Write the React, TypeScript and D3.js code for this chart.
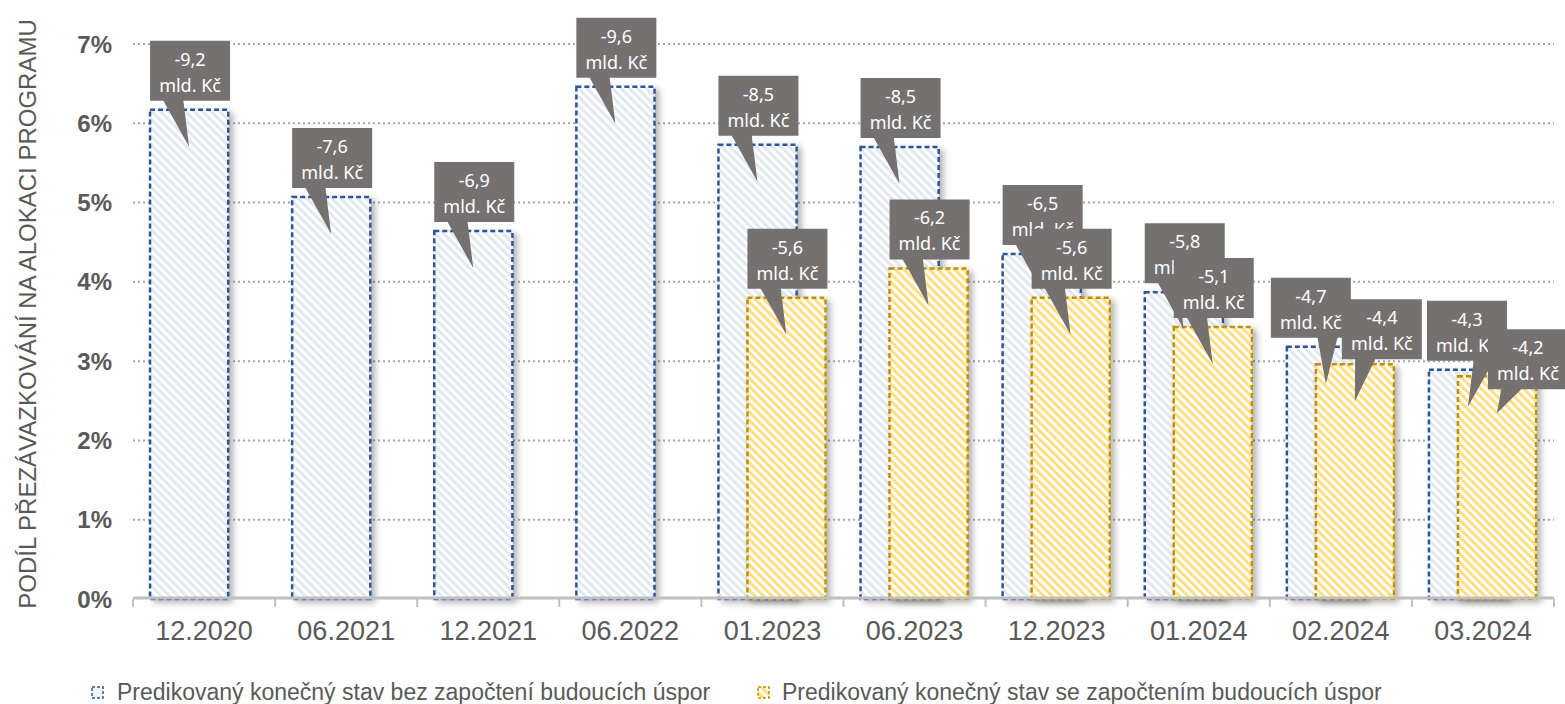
import React from "react";
import * as d3 from "d3";

const categories = [
  "12.2020", "06.2021", "12.2021", "06.2022", "01.2023",
  "06.2023", "12.2023", "01.2024", "02.2024", "03.2024",
];
// podíl přezávazkování (%)
const bezUspor = [6.17, 5.07, 4.64, 6.46, 5.73, 5.7, 4.35, 3.87, 3.18, 2.89];
const seUsporami: (number | null)[] = [null, null, null, null, 3.8, 4.17, 3.8, 3.43, 2.96, 2.81];
// objem v mld. Kč
const bezUsporLabels = ["-9,2", "-7,6", "-6,9", "-9,6", "-8,5", "-8,5", "-6,5", "-5,8", "-4,7", "-4,3"];
const seUsporamiLabels = [null, null, null, null, "-5,6", "-6,2", "-5,6", "-5,1", "-4,4", "-4,2"];
const yTicks = [0, 1, 2, 3, 4, 5, 6, 7];
const seriesNames = [
  "Predikovaný konečný stav bez započtení budoucích úspor",
  "Predikovaný konečný stav se započtením budoucích úspor",
];

// ruční posuny popisků (px), jako v Excelu
const blueLabelDx = [0, 0, 0, 0, 0, 0, 0, 0, -16, -2];
const yellowLabelDx = [0, 0, 0, 0, 0, 0, 0, 0, 26, 30];
const yellowLabelDy = [0, 0, 0, 0, 0, 0, 0, 0, 4, 22];

const W = 1565;
const H = 704;
const GREY = "#595959";

const x = d3.scaleBand().domain(categories).range([133, 1554]).padding(0);
const y = d3.scaleLinear().domain([0, 7]).range([599, 44]);

const bw = x.bandwidth();
const barW = bw * 0.55;
const blueOff = -bw * 0.38;
const yellowOff = -bw * 0.176;

const Callout: React.FC<{ barLeft: number; barTop: number; dx: number; dy: number; label: string }> = ({
  barLeft,
  barTop,
  dx,
  dy,
  label,
}) => {
  const boxW = 80;
  const boxH = 60;
  const bx = barLeft + dx;
  const by = barTop - 9 - boxH + dy;
  const tipX = barLeft + 39;
  const tipY = barTop + 37;
  const bottom = by + boxH;
  const left = tipX < bx + boxW / 2;
  const b1 = left ? bx + boxW / 6 : bx + (boxW * 7) / 12;
  const b2 = left ? bx + (boxW * 5) / 12 : bx + (boxW * 5) / 6;
  const path = `M${bx},${by} H${bx + boxW} V${bottom} H${b2} L${tipX},${tipY} L${b1},${bottom} H${bx} Z`;
  return (
    <g>
      <path d={path} fill="#767171" />
      <text
        x={bx + boxW / 2}
        y={by + 25}
        textAnchor="middle"
        fill="#fff"
        fontFamily="'Noto Sans', sans-serif"
        fontSize={18}
      >
        {label}
      </text>
      <text
        x={bx + boxW / 2}
        y={by + 51}
        textAnchor="middle"
        fill="#fff"
        fontFamily="'Noto Sans', sans-serif"
        fontSize={18}
      >
        mld. Kč
      </text>
    </g>
  );
};

const App: React.FC = () => {
  return (
    <svg
      width={W}
      height={H}
      style={{ position: "absolute", left: 0, top: 0, background: "#fff" }}
      fontFamily="'Liberation Sans', Arial, sans-serif"
    >
      <defs>
        <pattern id="pBlue" width="6" height="6" patternUnits="userSpaceOnUse" patternTransform="rotate(45)">
          <rect width="6" height="6" fill="#fff" />
          <rect width="6" height="3" fill="#e3e8f1" />
        </pattern>
        <pattern id="pYellow" width="6" height="6" patternUnits="userSpaceOnUse" patternTransform="rotate(45)">
          <rect width="6" height="6" fill="#fff" />
          <rect width="6" height="3" fill="#ffdf80" />
        </pattern>
        <filter id="shadow" x="-20%" y="-20%" width="150%" height="150%">
          <feDropShadow dx="4" dy="3" stdDeviation="3" floodColor="#000" floodOpacity="0.3" />
        </filter>
      </defs>

      {/* gridlines */}
      {yTicks.slice(1).map((t) => (
        <line
          key={t}
          x1={133}
          x2={1554}
          y1={y(t)}
          y2={y(t)}
          stroke="#a6a6a6"
          strokeWidth={2}
          strokeDasharray="2 3"
        />
      ))}

      {/* y tick labels */}
      {yTicks.map((t) => (
        <text
          key={t}
          x={112}
          y={y(t) + 8.5}
          textAnchor="end"
          fontSize={24}
          fontWeight="bold"
          fill={GREY}
        >
          {t}%
        </text>
      ))}

      {/* y axis title */}
      <text
        transform={`translate(36,314) rotate(-90)`}
        textAnchor="middle"
        fontSize={24}
        fill={GREY}
      >
        PODÍL PŘEZÁVAZKOVÁNÍ NA ALOKACI PROGRAMU
      </text>

      {/* bars: bez úspor */}
      {categories.map((c, i) => {
        const x0 = x(c)! + bw / 2 + blueOff;
        return (
          <rect
            key={"b" + c}
            x={x0}
            y={y(bezUspor[i])}
            width={barW}
            height={y(0) - y(bezUspor[i])}
            fill="url(#pBlue)"
            stroke="#2f5597"
            strokeWidth={2.5}
            strokeDasharray="5 3"
            filter="url(#shadow)"
          />
        );
      })}

      {/* bars: se úsporami */}
      {categories.map((c, i) => {
        const v = seUsporami[i];
        if (v == null) return null;
        const x0 = x(c)! + bw / 2 + yellowOff;
        return (
          <rect
            key={"y" + c}
            x={x0}
            y={y(v)}
            width={barW}
            height={y(0) - y(v)}
            fill="url(#pYellow)"
            stroke="#bf9000"
            strokeWidth={2.5}
            strokeDasharray="5 3"
            filter="url(#shadow)"
          />
        );
      })}

      {/* x axis */}
      <line x1={133} x2={1554} y1={y(0) - 1} y2={y(0) - 1} stroke="#bfbfbf" strokeWidth={3} />
      {[...categories.map((c) => x(c)!), 1554].map((tx, i) => (
        <line key={i} x1={tx} x2={tx} y1={y(0)} y2={y(0) + 8} stroke="#bfbfbf" strokeWidth={2} />
      ))}
      {categories.map((c) => (
        <text
          key={"l" + c}
          x={x(c)! + bw / 2}
          y={640}
          textAnchor="middle"
          fontSize={27}
          fill={GREY}
        >
          {c}
        </text>
      ))}

      {/* callouts */}
      {categories.map((c, i) => (
        <Callout
          key={"cb" + c}
          barLeft={x(c)! + bw / 2 + blueOff}
          barTop={y(bezUspor[i])}
          dx={blueLabelDx[i]}
          dy={0}
          label={bezUsporLabels[i]}
        />
      ))}
      {categories.map((c, i) => {
        const v = seUsporami[i];
        const lab = seUsporamiLabels[i];
        if (v == null || lab == null) return null;
        return (
          <Callout
            key={"cy" + c}
            barLeft={x(c)! + bw / 2 + yellowOff}
            barTop={y(v)}
            dx={yellowLabelDx[i]}
            dy={yellowLabelDy[i]}
            label={lab}
          />
        );
      })}

      {/* legend */}
      <g>
        <rect x={92} y={687} width={11} height={11} fill="#f2f4f8" stroke="#2f5597" strokeWidth={1.5} strokeDasharray="3 2" />
        <text x={117} y={700} fontSize={23} fill={GREY}>
          {seriesNames[0]}
        </text>
        <rect x={758} y={687} width={11} height={11} fill="url(#pYellow)" stroke="#bf9000" strokeWidth={1.5} strokeDasharray="3 2" />
        <text x={782} y={700} fontSize={23} fill={GREY}>
          {seriesNames[1]}
        </text>
      </g>
    </svg>
  );
};

export default App;
